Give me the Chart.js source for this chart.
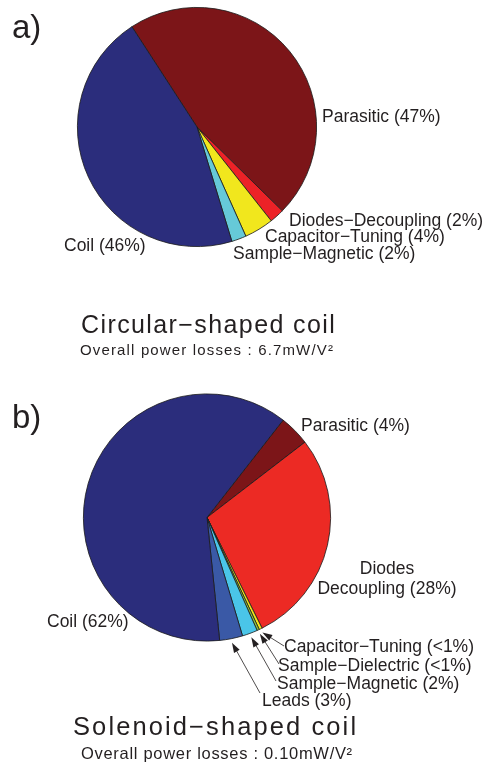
<!DOCTYPE html>
<html>
<head>
<meta charset="utf-8">
<script src="https://cdn.jsdelivr.net/npm/chart.js@4.4.1/dist/chart.umd.min.js"></script>
<style>
  body { margin: 0; background: #fff; width: 482px; height: 767px; overflow: hidden; position: relative; }
  .panel { position: absolute; left: 0; width: 482px; }
</style>
</head>
<body>
<div class="panel" style="top:0;height:380px"><canvas id="circularChart"></canvas></div>
<div class="panel" style="top:380px;height:387px"><canvas id="solenoidChart"></canvas></div>
<script>
// a) circular-shaped coil, share of power losses (%)
const circularNames = ['Parasitic', 'Diodes−Decoupling', 'Capacitor−Tuning', 'Sample−Magnetic', 'Coil'];
const circularValues = [47, 2, 4, 2, 46];
const circularShown = ['47%', '2%', '4%', '2%', '46%'];
const circularColors = ['#7c1518', '#ec2227', '#f1e71d', '#66c9d8', '#2b2d7c'];

// b) solenoid-shaped coil, share of power losses (%)
const solenoidNames = ['Parasitic', 'Diodes Decoupling', 'Capacitor−Tuning', 'Sample−Dielectric', 'Sample−Magnetic', 'Leads', 'Coil'];
const solenoidValues = [4, 28, 0.4, 0.3, 2, 3, 62];
const solenoidShown = ['4%', '28%', '<1%', '<1%', '2%', '3%', '62%'];
const solenoidColors = ['#7c1518', '#ec2a24', '#f4e41a', '#8dc63f', '#4ac5e8', '#3a59a6', '#2b2d7c'];

const FONT = '"Liberation Sans", Arial, Helvetica, sans-serif';
const INK = '#231f20';

// text placed around each pie; optional arrow runs from "tail" to the slice rim
const sliceLabels = {
  id: 'sliceLabels',
  afterDraw(chart, args, opts) {
    const ctx = chart.ctx;
    const arcs = chart.getDatasetMeta(0).data;
    ctx.save();
    ctx.fillStyle = INK;
    ctx.strokeStyle = INK;
    ctx.textBaseline = 'alphabetic';

    ctx.font = '33px ' + FONT;
    ctx.textAlign = 'left';
    ctx.fillText(opts.panel.text, opts.panel.x, opts.panel.y);

    ctx.font = '17.5px ' + FONT;
    opts.items.forEach((item, i) => {
      const label = opts.names[i] + ' (' + opts.shown[i] + ')';
      const lines = item.split ? [opts.names[i].split(' ')[0], opts.names[i].split(' ')[1] + ' (' + opts.shown[i] + ')'] : [label];
      ctx.textAlign = item.align || 'left';
      lines.forEach((ln, k) => ctx.fillText(ln, item.x, item.y + k * 20));

      if (item.tail) {
        const p = arcs[i].getProps(['x', 'y', 'startAngle', 'endAngle', 'outerRadius'], true);
        const mid = (p.startAngle + p.endAngle) / 2;
        const tipX = p.x + Math.cos(mid) * (p.outerRadius + 4);
        const tipY = p.y + Math.sin(mid) * (p.outerRadius + 4);
        const ang = Math.atan2(tipY - item.tail[1], tipX - item.tail[0]);
        ctx.lineWidth = 0.8;
        ctx.beginPath();
        ctx.moveTo(item.tail[0], item.tail[1]);
        ctx.lineTo(tipX - Math.cos(ang) * 6, tipY - Math.sin(ang) * 6);
        ctx.stroke();
        ctx.beginPath();
        ctx.moveTo(tipX, tipY);
        ctx.lineTo(tipX - Math.cos(ang) * 10 + Math.sin(ang) * 3.2, tipY - Math.sin(ang) * 10 - Math.cos(ang) * 3.2);
        ctx.lineTo(tipX - Math.cos(ang) * 10 - Math.sin(ang) * 3.2, tipY - Math.sin(ang) * 10 + Math.cos(ang) * 3.2);
        ctx.closePath();
        ctx.fill();
      }
    });

    ctx.textAlign = 'left';
    ctx.letterSpacing = opts.title.spacing;
    ctx.font = opts.title.size + ' ' + FONT;
    ctx.fillText(opts.title.text, opts.title.x, opts.title.y);
    ctx.letterSpacing = opts.subtitle.spacing;
    ctx.font = opts.subtitle.size + ' ' + FONT;
    ctx.fillText(opts.subtitle.text, opts.subtitle.x, opts.subtitle.y);
    ctx.restore();
  }
};

function makePie(id, names, values, shown, colors, rotation, padding, labelOpts) {
  return new Chart(document.getElementById(id).getContext('2d'), {
    type: 'pie',
    data: {
      labels: names,
      datasets: [{
        data: values,
        backgroundColor: colors,
        borderColor: '#1a1a1a',
        borderWidth: 0.8,
        hoverOffset: 0
      }]
    },
    options: {
      responsive: true,
      maintainAspectRatio: false,
      animation: false,
      rotation: rotation,
      layout: { padding: padding },
      events: [],
      plugins: {
        legend: { display: false },
        tooltip: { enabled: false },
        sliceLabels: Object.assign({ names: names, shown: shown }, labelOpts)
      }
    },
    plugins: [sliceLabels]
  });
}

makePie('circularChart', circularNames, circularValues, circularShown, circularColors, -33,
  { left: 77, top: 7, right: 165, bottom: 133 },
  {
    panel: { text: 'a)', x: 12, y: 38 },
    items: [
      { x: 322, y: 122 },
      { x: 289, y: 226 },
      { x: 265, y: 242 },
      { x: 233, y: 259 },
      { x: 64, y: 251 }
    ],
    title: { text: 'Circular−shaped coil', x: 81, y: 333, size: '25px', spacing: '1.4px' },
    subtitle: { text: 'Overall power losses : 6.7mW/V²', x: 80, y: 355, size: '15px', spacing: '1.15px' }
  });

makePie('solenoidChart', solenoidNames, solenoidValues, solenoidShown, solenoidColors, 38,
  { left: 83, top: 13, right: 151, bottom: 125 },
  {
    panel: { text: 'b)', x: 12, y: 48 },
    items: [
      { x: 301, y: 51 },
      { x: 387, y: 194, align: 'center', split: true },
      { x: 284, y: 272, tail: [284, 266] },
      { x: 278, y: 291, tail: [279, 284] },
      { x: 277, y: 309, tail: [276, 301] },
      { x: 262, y: 326, tail: [260, 313] },
      { x: 47, y: 247 }
    ],
    title: { text: 'Solenoid−shaped coil', x: 73, y: 355, size: '25.5px', spacing: '2.1px' },
    subtitle: { text: 'Overall power losses : 0.10mW/V²', x: 81, y: 379, size: '16.5px', spacing: '0.7px' }
  });
</script>
</body>
</html>
